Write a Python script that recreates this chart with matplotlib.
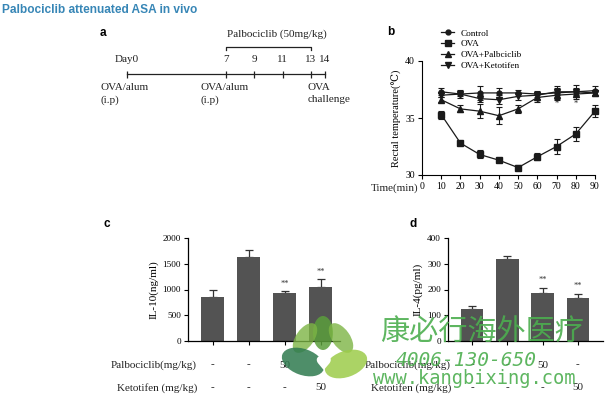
import matplotlib
matplotlib.use('Agg')
import matplotlib.pyplot as plt
import numpy as np
from matplotlib import transforms
from matplotlib.patches import Ellipse
from matplotlib.lines import Line2D

# ---------------- data ----------------
title = "Palbociclib attenuated ASA in vivo"

days = [0, 7, 9, 11, 13, 14]
day_labels = ["Day0", "7", "9", "11", "13", "14"]
treat_start, treat_end = 7, 13
treat_label = "Palbociclib (50mg/kg)"
event_labels = ["OVA/alum\n(i.p)", "OVA/alum\n(i.p)", "OVA\nchallenge"]

time_min = [10, 20, 30, 40, 50, 60, 70, 80, 90]
control = [37.3, 37.1, 37.2, 37.2, 37.2, 37.1, 37.2, 37.3, 37.4]
control_err = [0.3, 0.35, 0.6, 0.45, 0.25, 0.3, 0.6, 0.6, 0.4]
ova = [35.3, 32.8, 31.8, 31.3, 30.65, 31.6, 32.5, 33.6, 35.6]
ova_err = [0.35, 0.2, 0.35, 0.2, 0.25, 0.3, 0.65, 0.65, 0.5]
palbo = [36.6, 35.8, 35.6, 35.2, 35.8, 36.8, 37.0, 37.1, 37.2]
palbo_err = [0.2, 0.3, 0.6, 0.75, 0.35, 0.4, 0.3, 0.3, 0.3]
keto = [37.0, 37.1, 36.7, 36.6, 36.9, 37.0, 37.3, 37.3, 37.2]
keto_err = [0.2, 0.2, 0.3, 0.4, 0.3, 0.3, 0.3, 0.3, 0.2]
series_names = ["Control", "OVA", "OVA+Palbciclib", "OVA+Ketotifen"]
sig_times = [60, 70, 80]
sig_level = 36.2

groups = [0, 1, 2, 3]
il10 = [860, 1630, 940, 1045]
il10_err = [140, 140, 26, 155]
il10_sig = [None, None, "**", "**"]
il4 = [123, 317, 186, 168]
il4_err = [13, 13, 20, 15]
il4_sig = [None, None, "**", "**"]
palbo_dose = ["-", "-", "50", "-"]
keto_dose = ["-", "-", "-", "50"]
row_names = ["Palbociclib(mg/kg)", "Ketotifen (mg/kg)"]

# ---------------- figure ----------------
W, H = 610, 397
fig = plt.figure(figsize=(6.1, 3.97), dpi=100)
fig.patch.set_facecolor('white')
SERIF = ['Liberation Serif', 'DejaVu Serif']
SANS = ['Liberation Sans', 'DejaVu Sans']


def box(l, t, r, b):
    return [l / W, 1 - b / H, (r - l) / W, (b - t) / H]


def fy(y):
    return 1 - y / H


fig.text(2 / W, fy(10), title, color='#3786b6', fontsize=8.6,
         fontweight='bold', family=SANS, va='center', ha='left')

# panel labels
for lab, x, y in [("a", 100, 33), ("b", 387, 32), ("c", 103, 224), ("d", 410, 224)]:
    fig.text(x / W, fy(y), lab, fontsize=8.5, fontweight='bold', family=SANS,
             va='center', ha='left')

# ---------------- panel a ----------------
ax_a = fig.add_axes(box(127, 20, 325, 120))
ax_a.set_xlim(0, 14)
ax_a.set_ylim(120, 20)
ax_a.axis('off')
ax_a.plot([days[0], days[-1]], [74, 74], color='#222222', lw=0.9, clip_on=False)
ax_a.vlines(days, 70.5, 77.5, color='#222222', lw=0.9, clip_on=False)
for d, lab in zip(days, day_labels):
    ax_a.text(d, 60, lab, ha='center', va='center', fontsize=8, family=SERIF,
              color='#222222', clip_on=False)
ax_a.plot([treat_start, treat_start, treat_end, treat_end], [50, 46.5, 46.5, 50],
          color='#222222', lw=0.9, clip_on=False)
ax_a.text(10.6, 34, treat_label, ha='center', va='center', fontsize=8,
          family=SERIF, color='#222222')
for xd, lab in zip([-1.9, 5.2, 12.75], event_labels):
    ax_a.text(xd, 83, lab, ha='left', va='top', fontsize=8, family=SERIF,
              color='#222222', linespacing=1.45, clip_on=False)

# ---------------- panel b ----------------
ax_b = fig.add_axes(box(422, 61, 595, 175))
ax_b.set_xlim(0, 90)
ax_b.set_ylim(30, 40)
data_b = [(control, control_err, 'o', 3.5), (ova, ova_err, 's', 4),
          (palbo, palbo_err, '^', 3.8), (keto, keto_err, 'v', 3.8)]
handles = []
for (vals, errs, mk, ms), name in zip(data_b, series_names):
    ax_b.errorbar(time_min, vals, yerr=errs, fmt='none', ecolor='#1a1a1a',
                  elinewidth=0.8, capsize=2.2, capthick=0.8, clip_on=False)
    ln, = ax_b.plot(time_min, vals, color='#1a1a1a', lw=0.9, marker=mk,
                    markersize=ms, clip_on=False, label=name)
    handles.append(ln)
for t in sig_times:
    ax_b.text(t, sig_level, "*", ha='center', va='center', fontsize=6,
              family=SERIF, color='#222222')
ax_b.set_xticks(range(0, 91, 10))
ax_b.set_yticks([30, 35, 40])
ax_b.spines['top'].set_visible(False)
ax_b.spines['right'].set_visible(False)
for s in ['left', 'bottom']:
    ax_b.spines[s].set_linewidth(0.8)
ax_b.tick_params(labelsize=7, length=3, width=0.8, pad=2)
for lbl in ax_b.get_xticklabels() + ax_b.get_yticklabels():
    lbl.set_family(SERIF)
ax_b.set_ylabel("Rectal temperature(℃)", fontsize=7.5, family=SERIF, labelpad=2)
fig.text(418 / W, fy(188), "Time(min)", ha='right', va='center', fontsize=8,
         family=SERIF, color='#222222')
fig.legend(handles=handles, loc='upper left', bbox_to_anchor=(441 / W, fy(29)),
           frameon=False, prop={'family': SERIF, 'size': 6.7}, handlelength=1.4,
           handletextpad=0.7, labelspacing=0.25, borderaxespad=0, borderpad=0)


# ---------------- bar panels ----------------
def bar_panel(rect, xlim, vals, errs, sigs, ymax, yticks, ylabel, row_right):
    ax = fig.add_axes(rect)
    ax.bar(groups, vals, width=0.64, color='#535353', zorder=2)
    ax.errorbar(groups, vals, yerr=[np.zeros(len(errs)), errs], fmt='none',
                ecolor='#333333', elinewidth=0.9, capsize=3, capthick=0.9, zorder=1)
    ax.set_xlim(*xlim)
    ax.set_ylim(0, ymax)
    ax.set_yticks(yticks)
    ax.set_xticks(groups)
    ax.set_xticklabels([])
    ax.spines['top'].set_visible(False)
    ax.spines['right'].set_visible(False)
    for s in ['left', 'bottom']:
        ax.spines[s].set_linewidth(0.9)
    ax.tick_params(labelsize=6.6, length=3, width=0.8, pad=2)
    for lbl in ax.get_yticklabels():
        lbl.set_family(SERIF)
    ax.set_ylabel(ylabel, fontsize=8, family=SERIF, labelpad=3)
    for g, v, e, s in zip(groups, vals, errs, sigs):
        if s:
            ax.text(g, v + e + ymax * 0.035, s, ha='center', va='bottom',
                    fontsize=6, family=SERIF, color='#333333')
    tr = transforms.blended_transform_factory(ax.transData, fig.transFigure)
    for row, (name, doses) in enumerate(zip(row_names, [palbo_dose, keto_dose])):
        y = fy(365 + 23 * row)
        fig.text(row_right / W, y, name, ha='right', va='center', fontsize=8,
                 family=SERIF, color='#222222')
        for g, d in zip(groups, doses):
            ax.text(g, y, d, transform=tr, ha='center', va='center', fontsize=8,
                    family=SERIF, color='#222222')
    return ax


bar_panel(box(188, 238, 340, 341), (-0.69, 3.53), il10, il10_err, il10_sig,
          2000, [0, 500, 1000, 1500, 2000], "IL-10(ng/ml)", 197)
bar_panel(box(448, 238, 603, 341), (-0.68, 3.71), il4, il4_err, il4_sig,
          400, [0, 100, 200, 300, 400], "IL-4(pg/ml)", 451)

# ---------------- watermark ----------------
ov = fig.add_axes([0, 0, 1, 1], zorder=10)
ov.set_xlim(0, W)
ov.set_ylim(H, 0)
ov.axis('off')
green = '#4cae4f'
leaves = [((323, 333), 20, 34, 0, '#5b9e3c', 0.85),
          ((305, 338), 18, 34, 35, '#7db545', 0.8),
          ((341, 338), 18, 34, -35, '#7db545', 0.8),
          ((303, 362), 44, 26, 20, '#2f7a4f', 0.85),
          ((346, 364), 44, 26, -20, '#9ccc4a', 0.85)]
for (cx, cy), w, h, ang, col, a in leaves:
    ov.add_patch(Ellipse((cx, cy), w, h, angle=ang, color=col, alpha=a, lw=0))
ov.text(323, 364, "♥", ha='center', va='center', fontsize=14, color='white',
        family='DejaVu Sans')
ov.text(482, 332, "康必行海外医疗", ha='center', va='center', fontsize=21,
        color=green, alpha=0.9, family=['Noto Sans CJK SC', 'DejaVu Sans'])
ov.text(466, 360, "4006-130-650", ha='center', va='center', fontsize=14,
        color=green, alpha=0.9, family='DejaVu Sans Mono', style='italic')
ov.text(474, 378, "www.kangbixing.com", ha='center', va='center', fontsize=13.5,
        color=green, alpha=0.9, family='DejaVu Sans Mono')

fig.savefig('out.png', dpi=100)
